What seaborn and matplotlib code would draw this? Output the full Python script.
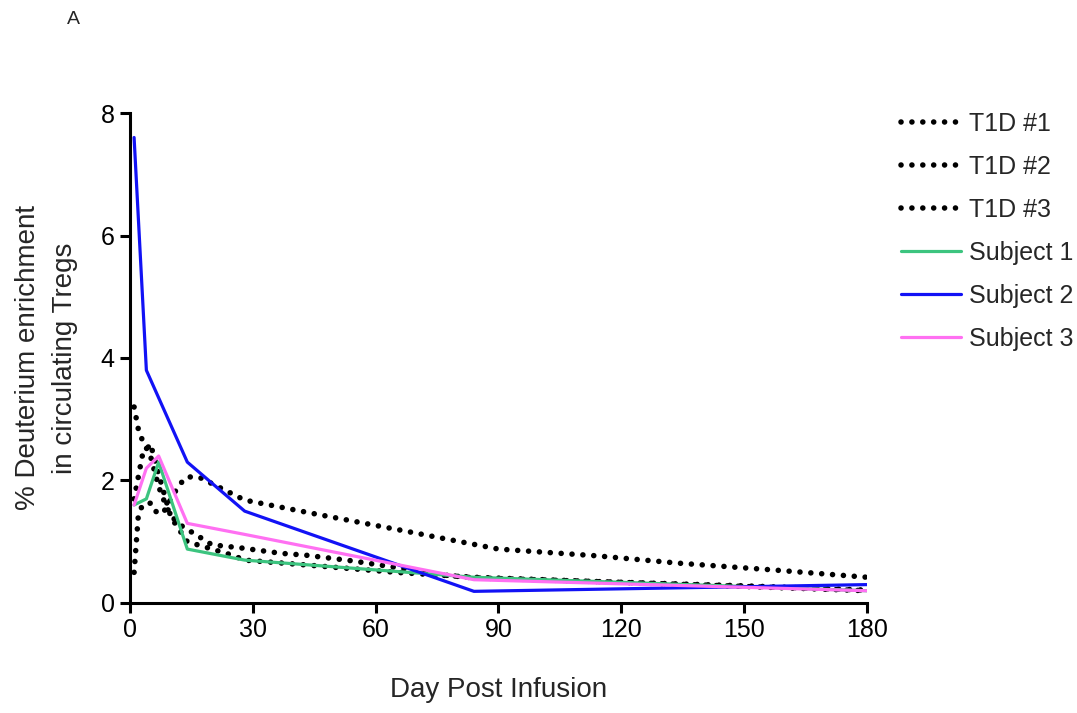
import seaborn as sns
import pandas as pd
import matplotlib.pyplot as plt

# Data
t1d1_days = [1, 2, 3, 5, 6, 8, 12, 14, 17, 28, 44, 66, 90, 114, 134, 157, 180]
t1d1_vals = [0.5, 1.4, 1.6, 1.63, 1.5, 1.46, 1.93, 2.06, 2.05, 1.68, 1.47, 1.19, 0.88, 0.77, 0.65, 0.54, 0.42]

t1d2_days = [1, 2, 3, 5, 7, 9, 11, 13, 16, 20, 27, 37, 43, 54, 66, 76, 84, 114, 150, 180]
t1d2_vals = [3.2, 2.85, 2.66, 2.4, 1.9, 1.55, 1.35, 1.24, 1.12, 0.95, 0.9, 0.81, 0.78, 0.69, 0.57, 0.46, 0.41, 0.35, 0.28, 0.21]

t1d3_days = [1, 3, 5, 7, 10, 14, 25, 28, 45, 65, 84, 114, 150, 180]
t1d3_vals = [1.7, 2.4, 2.6, 2.1, 1.4, 1.0, 0.78, 0.7, 0.61, 0.5, 0.42, 0.35, 0.27, 0.2]

subj_days = [1, 4, 7, 14, 28, 84, 180]
subj1_vals = [1.6, 1.7, 2.3, 0.88, 0.7, 0.42, 0.2]
subj2_days = [1, 4, 14, 28, 84, 180]
subj2_vals = [7.6, 3.8, 2.3, 1.5, 0.19, 0.3]
subj3_vals = [1.6, 2.2, 2.4, 1.3, 1.12, 0.38, 0.2]

series = [
    ('T1D #1', t1d1_days, t1d1_vals, 'black', True),
    ('T1D #2', t1d2_days, t1d2_vals, 'black', True),
    ('T1D #3', t1d3_days, t1d3_vals, 'black', True),
    ('Subject 1', subj_days, subj1_vals, '#3cc47f', False),
    ('Subject 2', subj2_days, subj2_vals, '#1212f5', False),
    ('Subject 3', subj_days, subj3_vals, '#ff70f2', False),
]

sns.set_theme(style="ticks")
plt.rcParams['font.family'] = ['Liberation Sans', 'DejaVu Sans']

fig = plt.figure(figsize=(10.77, 7.13), dpi=100)
ax = fig.add_axes([0.1207, 0.1543, 0.6843, 0.6872])

for name, days, vals, color, dotted in series:
    df = pd.DataFrame({'Day': days, 'Value': vals})
    if dotted:
        sns.lineplot(data=df, x='Day', y='Value', ax=ax, color=color, lw=4.0,
                     linestyle=(0, (0.01, 1.95)), dash_capstyle='round',
                     estimator=None, label=name)
    else:
        sns.lineplot(data=df, x='Day', y='Value', ax=ax, color=color, lw=2.3,
                     estimator=None, label=name)

ax.set_xlim(0, 180)
ax.set_ylim(0, 8)
ax.set_xticks([0, 30, 60, 90, 120, 150, 180])
ax.set_yticks([0, 2, 4, 6, 8])
for s in ['top', 'right']:
    ax.spines[s].set_visible(False)
for s in ['left', 'bottom']:
    ax.spines[s].set_linewidth(2.2)
    ax.spines[s].set_color('black')
ax.tick_params(axis='both', width=2.2, length=7, labelsize=18, colors='black', pad=4)

ax.set_xlabel('Day Post Infusion', fontsize=20, labelpad=25)
ax.set_ylabel('% Deuterium enrichment\nin circulating Tregs', fontsize=20,
              labelpad=16, linespacing=1.55)

handles, labels = ax.get_legend_handles_labels()
ax.get_legend().remove()
fig.legend(handles, labels, loc='upper left', bbox_to_anchor=(0.816, 0.875),
           frameon=False, fontsize=18, handlelength=2.4, labelspacing=0.76,
           handletextpad=0.3)

fig.text(0.062, 0.972, 'A', fontsize=14, ha='left', va='center')

plt.savefig('out.png', dpi=100)
